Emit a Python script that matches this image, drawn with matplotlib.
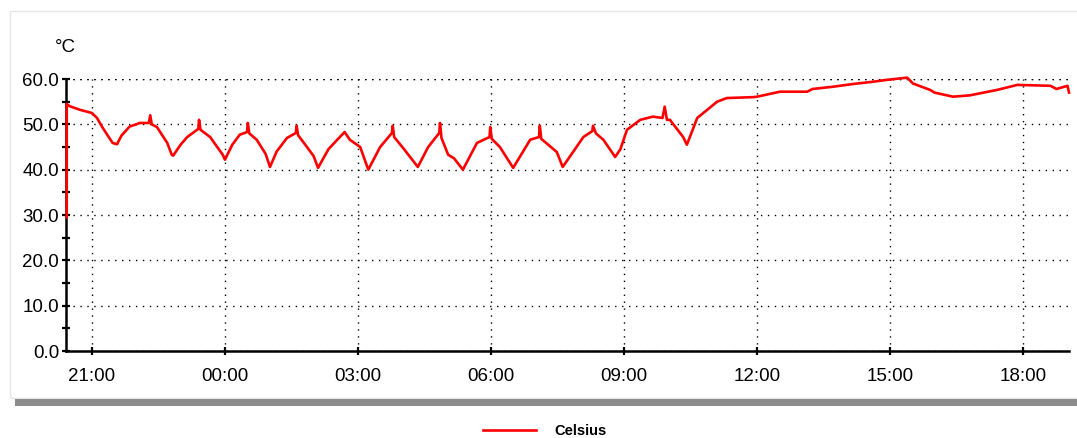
import datetime as dt
import matplotlib.pyplot as plt
import matplotlib.dates as mdates
from matplotlib.patches import Rectangle

plt.rcParams['font.family'] = ['Liberation Sans', 'DejaVu Sans']

# lecturas (hora, °C)
horas = ["20:26", "20:26", "20:30", "20:44", "21:00", "21:07", "21:14", "21:28", "21:34", "21:40",
         "21:51", "22:05", "22:17", "22:19", "22:21", "22:28", "22:42", "22:48", "22:50", "23:00",
         "23:09", "23:24", "23:25", "23:27", "23:40", "23:57", "00:00", "00:10", "00:20", "00:30",
         "00:31", "00:33", "00:43", "00:55", "01:01", "01:10", "01:24", "01:36", "01:37", "01:39",
         "01:51", "02:00", "02:06", "02:20", "02:32", "02:42", "02:49", "03:03", "03:14", "03:30",
         "03:46", "03:47", "03:49", "04:01", "04:21", "04:35", "04:50", "04:51", "04:53", "05:02",
         "05:10", "05:22", "05:41", "05:58", "05:59", "06:01", "06:12", "06:30", "06:53", "07:05",
         "07:06", "07:08", "07:29", "07:37", "08:05", "08:17", "08:18", "08:22", "08:32", "08:48",
         "08:55", "09:04", "09:22", "09:39", "09:52", "09:55", "09:58", "10:02", "10:20", "10:25",
         "10:39", "11:06", "11:19", "11:55", "12:00", "12:31", "13:08", "13:15", "13:43", "14:10",
         "14:37", "14:55", "15:23", "15:31", "15:54", "16:00", "16:25", "16:48", "17:25", "17:52",
         "18:37", "18:45", "19:00", "19:02"]
celsius = [29.5, 54.5, 54.0, 53.2, 52.5, 51.4, 49.4, 45.9, 45.6, 47.5,
           49.5, 50.3, 50.3, 52.0, 50.0, 49.4, 45.9, 43.3, 43.1, 45.5,
           47.2, 49.0, 51.0, 48.8, 47.2, 43.3, 42.2, 45.5, 47.7, 48.3,
           50.3, 48.0, 46.6, 43.5, 40.6, 44.0, 47.0, 48.1, 49.7, 47.6,
           45.0, 43.0, 40.4, 44.5, 46.6, 48.3, 46.6, 45.0, 40.0, 45.0,
           48.1, 49.7, 47.2, 44.8, 40.6, 45.0, 48.1, 50.3, 47.0, 43.3,
           42.5, 40.0, 45.9, 47.2, 49.4, 46.8, 45.0, 40.4, 46.6, 47.2,
           49.7, 46.8, 43.9, 40.6, 47.2, 48.5, 49.7, 48.0, 46.6, 42.8,
           44.5, 48.8, 51.0, 51.7, 51.4, 53.9, 51.0, 51.0, 47.2, 45.5,
           51.4, 55.0, 55.8, 56.0, 56.1, 57.2, 57.2, 57.8, 58.3, 58.9,
           59.4, 59.8, 60.3, 59.0, 57.6, 57.0, 56.1, 56.4, 57.6, 58.7,
           58.5, 57.8, 58.5, 57.0]

# convertir horas a fechas (cambio de dia al pasar medianoche)
dia = dt.date(2024, 1, 1)
tiempos = []
prev = None
for h in horas:
    t = dt.datetime.strptime(h, "%H:%M").time()
    if prev is not None and t < prev:
        dia = dia + dt.timedelta(days=1)
    tiempos.append(dt.datetime.combine(dia, t))
    prev = t

fig = plt.figure(figsize=(10.77, 4.38), dpi=100)

# marco y sombra
fig.patches.append(Rectangle((10 / 1077, 1 - 398 / 438), 1.0, (398 - 11) / 438,
                             transform=fig.transFigure, facecolor='white',
                             edgecolor='#e6e6e6', linewidth=1, zorder=-2))
plt.rcParams['hatch.color'] = '#d8d8d8'
fig.patches.append(Rectangle((15 / 1077, 1 - 406 / 438), 1.0, 7 / 438,
                             transform=fig.transFigure, facecolor='#8c8c8c',
                             edgecolor='none', hatch='xxxxxx', zorder=-1))

ax = fig.add_axes([66 / 1077, 1 - 351 / 438, (1069 - 66) / 1077, (351 - 79) / 438])
ax.patch.set_alpha(0)
ax.set_zorder(2)

ax.plot(tiempos, celsius, color='#ff0000', linewidth=1.9, label='Celsius', zorder=3,
        clip_on=False)

ax.set_ylim(0, 60)
ax.set_xlim(dt.datetime(2024, 1, 1, 20, 25), dt.datetime(2024, 1, 2, 19, 2))

ax.set_yticks([0, 10, 20, 30, 40, 50, 60])
ax.set_yticks([5, 15, 25, 35, 45, 55], minor=True)
ax.yaxis.set_major_formatter(plt.FormatStrFormatter('%.1f'))
ax.xaxis.set_major_locator(mdates.HourLocator(byhour=[0, 3, 6, 9, 12, 15, 18, 21]))
ax.xaxis.set_major_formatter(mdates.DateFormatter('%H:%M'))

for s in ['top', 'right']:
    ax.spines[s].set_visible(False)
for s in ['left', 'bottom']:
    ax.spines[s].set_linewidth(1.8)

ax.tick_params(axis='both', which='major', direction='inout', length=6, width=1.6,
               labelsize=13.5, colors='black')
ax.tick_params(axis='y', which='minor', direction='inout', length=6, width=1.6)
ax.tick_params(axis='x', pad=9)
ax.tick_params(axis='y', pad=2)

ax.grid(True, which='major', color='black', linestyle=(0, (1, 4)), linewidth=1.0)
ax.axhline(60, color='black', linestyle=(0, (1, 4)), linewidth=1.0, zorder=1)

fig.text(65 / 1077, 1 - 47 / 438, '°C', fontsize=13.5, ha='center', va='center')

fig.legend(loc='center', bbox_to_anchor=(545 / 1077, 1 - 431 / 438), frameon=False,
           handlelength=3.6, handletextpad=1.3, prop={'weight': 'bold', 'size': 10.5})

fig.savefig('out.png', dpi=100)
